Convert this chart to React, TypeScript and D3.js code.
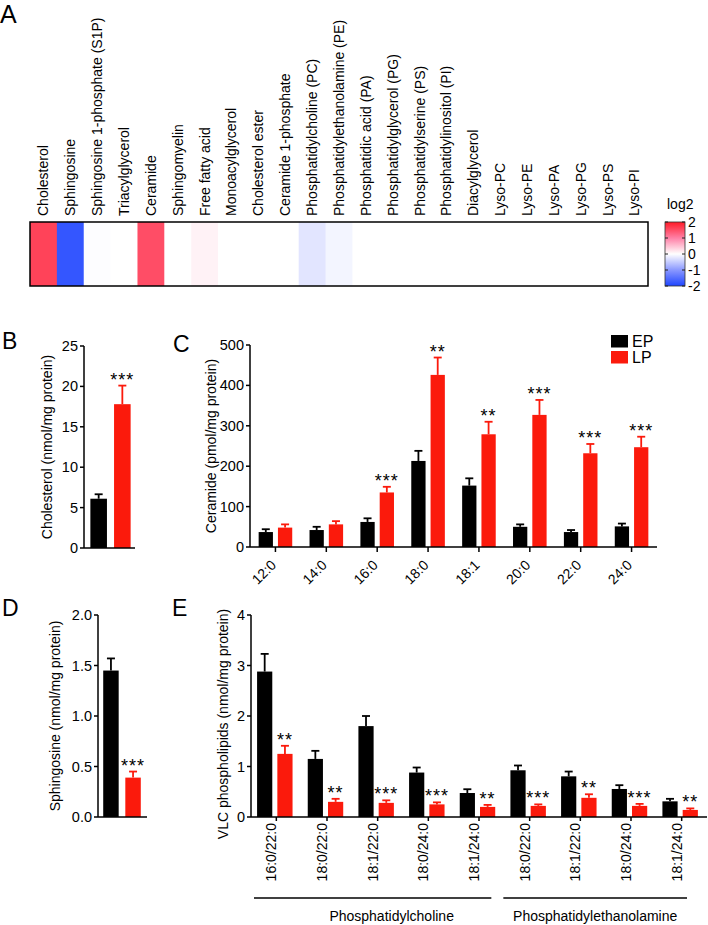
import React from "react";
import * as d3 from "d3";

// ---------- DATA ----------
const heatCategories = [
  "Cholesterol", "Sphingosine", "Sphingosine 1-phosphate (S1P)", "Triacylglycerol",
  "Ceramide", "Sphingomyelin", "Free fatty acid", "Monoacylglycerol", "Cholesterol ester",
  "Ceramide 1-phosphate", "Phosphatidylcholine (PC)", "Phosphatidylethanolamine (PE)",
  "Phosphatidic acid (PA)", "Phosphatidylglycerol (PG)", "Phosphatidylserine (PS)",
  "Phosphatidylinositol (PI)", "Diacylglycerol", "Lyso-PC", "Lyso-PE", "Lyso-PA",
  "Lyso-PG", "Lyso-PS", "Lyso-PI",
];
const heatValues = [1.6, -1.8, -0.02, 0, 1.5, 0, 0.1, 0, 0, 0, -0.25, -0.1, 0, 0, 0, 0, 0, 0, 0, 0, 0, 0, 0];
const colorTicks = [2, 1, 0, -1, -2];

const seriesNames = ["EP", "LP"];

const cholMean = [6.1, 17.8];
const cholErr = [0.55, 2.3];
const cholSig = ["", "***"];
const cholTicks = [0, 5, 10, 15, 20, 25];

const ceramideCats = ["12:0", "14:0", "16:0", "18:0", "18:1", "20:0", "22:0", "24:0"];
const ceramideEP = [37, 42, 62, 213, 152, 50, 37, 51];
const ceramideEPErr = [7, 8, 9, 25, 18, 6, 5, 7];
const ceramideLP = [48, 56, 135, 426, 279, 327, 232, 247];
const ceramideLPErr = [8, 8, 14, 43, 31, 37, 23, 26];
const ceramideSig = ["", "", "***", "**", "**", "***", "***", "***"];
const ceramideTicks = [0, 100, 200, 300, 400, 500];

const sphMean = [1.45, 0.39];
const sphErr = [0.12, 0.06];
const sphSig = ["", "***"];
const sphTicks = [0, 0.5, 1.0, 1.5, 2.0];

const vlcCats = ["16:0/22:0", "18:0/22:0", "18:1/22:0", "18:0/24:0", "18:1/24:0", "18:0/22:0", "18:1/22:0", "18:0/24:0", "18:1/24:0"];
const vlcEP = [2.88, 1.15, 1.80, 0.88, 0.475, 0.925, 0.805, 0.555, 0.31];
const vlcEPErr = [0.35, 0.16, 0.2, 0.1, 0.075, 0.095, 0.095, 0.075, 0.05];
const vlcLP = [1.25, 0.30, 0.28, 0.25, 0.20, 0.22, 0.38, 0.22, 0.14];
const vlcLPErr = [0.16, 0.06, 0.05, 0.04, 0.04, 0.03, 0.07, 0.04, 0.03];
const vlcSig = ["**", "**", "***", "***", "**", "***", "**", "***", "**"];
const vlcTicks = [0, 1, 2, 3, 4];
const vlcClasses = ["Phosphatidylcholine", "Phosphatidylethanolamine"];
const vlcClassCounts = [5, 4];

// ---------- STYLE ----------
const FONT = "'Liberation Sans', Arial, Helvetica, sans-serif";
const BLACK = "#000000";
const RED = "#fb1a0c";
const seriesColors = [BLACK, RED];
const AXW = 1.5;

const heatColor = d3
  .scaleLinear<string>()
  .domain([-2, -1, 0, 1, 2])
  .range(["#1f45ff", "#8a98ff", "#ffffff", "#ff80a6", "#ff1a26"])
  .clamp(true);

function YAxis({ scale, x, ticks, fmt }: any) {
  const [d0, d1] = scale.domain();
  return (
    <g>
      <line x1={x} x2={x} y1={scale(d1)} y2={scale(d0)} stroke={BLACK} strokeWidth={AXW} />
      {ticks.map((t: number) => (
        <g key={t}>
          <line x1={x - 4} x2={x} y1={scale(t)} y2={scale(t)} stroke={BLACK} strokeWidth={AXW} />
          <text x={x - 6} y={scale(t)} dy="0.35em" textAnchor="end" fontSize={14.5} fontFamily={FONT}>
            {fmt ? fmt(t) : t}
          </text>
        </g>
      ))}
    </g>
  );
}

function ErrBar({ cx, y0, y1, color }: any) {
  return (
    <g>
      <line x1={cx} x2={cx} y1={y0} y2={y1} stroke={color} strokeWidth={1.8} />
      <line x1={cx - 4} x2={cx + 4} y1={y1} y2={y1} stroke={color} strokeWidth={1.8} />
    </g>
  );
}

function Stars({ cx, y, s }: any) {
  if (!s) return null;
  return (
    <text x={cx} y={y} textAnchor="middle" fontSize={18} letterSpacing={1} fontFamily={FONT}>
      {s}
    </text>
  );
}

function SinglePanel({ axisX, xEnd, yTop, yBot, barRange, means, errs, sigs, ticks, fmt, title, titleX }: any) {
  const y = d3.scaleLinear().domain([0, ticks[ticks.length - 1]]).range([yBot, yTop]);
  const x = d3.scaleBand().domain(seriesNames).range(barRange).paddingInner(0.3).paddingOuter(0.1);
  return (
    <g>
      {seriesNames.map((s, i) => {
        const bx = x(s)!;
        const cx = bx + x.bandwidth() / 2;
        const top = y(means[i] + errs[i]);
        return (
          <g key={s}>
            <ErrBar cx={cx} y0={y(means[i])} y1={top} color={seriesColors[i]} />
            <rect x={bx} width={x.bandwidth()} y={y(means[i])} height={y(0) - y(means[i])} fill={seriesColors[i]} />
            <Stars cx={cx} y={top} s={sigs[i]} />
          </g>
        );
      })}
      <line x1={axisX} x2={xEnd} y1={yBot} y2={yBot} stroke={BLACK} strokeWidth={AXW} />
      <YAxis scale={y} x={axisX} ticks={ticks} fmt={fmt} />
      <text
        transform={`translate(${titleX},${(yTop + yBot) / 2}) rotate(-90)`}
        textAnchor="middle"
        fontSize={14}
        fontFamily={FONT}
      >
        {title}
      </text>
    </g>
  );
}

export default function App() {
  // ----- Panel A heatmap -----
  const hx = d3.scaleBand().domain(heatCategories).range([30, 648]);
  const hy0 = 222, hy1 = 286;
  const cbY = d3.scaleLinear().domain([-2, 2]).range([hy1, hy0]);
  const cbX0 = 665, cbX1 = 685;
  const gradStops = d3.range(0, 1.0001, 0.05);

  // ----- Panel C -----
  const cY = d3.scaleLinear().domain([0, 500]).range([547, 345]);
  const cX = d3.scaleBand().domain(ceramideCats).range([250, 657]);
  const cIn = d3.scaleBand().domain(seriesNames)
    .range([cX.bandwidth() * 0.17, cX.bandwidth() * 0.83]).paddingInner(0.26);
  const cSeries = [[ceramideEP, ceramideEPErr], [ceramideLP, ceramideLPErr]];

  // ----- Panel E -----
  const eY = d3.scaleLinear().domain([0, 4]).range([817, 615]);
  const eX = d3.scaleBand<number>().domain(d3.range(vlcCats.length)).range([251, 707]);
  const eIn = d3.scaleBand().domain(seriesNames)
    .range([eX.bandwidth() * 0.12, eX.bandwidth() * 0.82]).paddingInner(0.25);
  const eSeries = [[vlcEP, vlcEPErr], [vlcLP, vlcLPErr]];
  const classStarts = vlcClassCounts.map((_, i) => d3.sum(vlcClassCounts.slice(0, i)));
  const bracketPad = [[3, 13], [-1, 20]];
  const labelShift = [19, 0];

  return (
    <svg
      width={708}
      height={925}
      style={{ position: "fixed", left: 0, top: 0, background: "#fff" }}
      fontFamily={FONT}
    >
      <rect x={0} y={0} width={708} height={925} fill="#fff" />

      {/* Panel letters */}
      <text x={0} y={23} fontSize={25} fontFamily={FONT}>A</text>
      <text x={2} y={349} fontSize={23} fontFamily={FONT}>B</text>
      <text x={173} y={352} fontSize={23} fontFamily={FONT}>C</text>
      <text x={2} y={616} fontSize={23} fontFamily={FONT}>D</text>
      <text x={172} y={616} fontSize={23} fontFamily={FONT}>E</text>

      {/* ===== A: heatmap ===== */}
      {heatCategories.map((c, i) => (
        <rect key={c} x={hx(c)!} y={hy0} width={hx.bandwidth() + 0.5} height={hy1 - hy0} fill={heatColor(heatValues[i])} />
      ))}
      <rect x={30} y={hy0} width={618} height={hy1 - hy0} fill="none" stroke={BLACK} strokeWidth={1.5} />
      {heatCategories.map((c) => (
        <text
          key={c}
          transform={`translate(${hx(c)! + hx.bandwidth() / 2},216) rotate(-90)`}
          dy="0.35em"
          fontSize={14}
          fontFamily={FONT}
        >
          {c}
        </text>
      ))}
      <defs>
        <linearGradient id="cbgrad" x1="0" y1="1" x2="0" y2="0">
          {gradStops.map((t) => (
            <stop key={t} offset={t} stopColor={heatColor(-2 + 4 * t)} />
          ))}
        </linearGradient>
      </defs>
      <rect x={cbX0} y={hy0} width={cbX1 - cbX0} height={hy1 - hy0} fill="url(#cbgrad)" stroke="#333" strokeWidth={0.8} />
      {colorTicks.map((t) => (
        <g key={t}>
          <line x1={cbX0} x2={cbX0 + 3} y1={cbY(t)} y2={cbY(t)} stroke="#222" strokeWidth={1} />
          <line x1={cbX1 - 3} x2={cbX1} y1={cbY(t)} y2={cbY(t)} stroke="#222" strokeWidth={1} />
          <text x={688} y={cbY(t)} dy="0.35em" fontSize={14} fontFamily={FONT}>{t}</text>
        </g>
      ))}
      <text x={667} y={209} fontSize={14} fontFamily={FONT}>log2</text>

      {/* ===== B ===== */}
      <SinglePanel
        axisX={84} xEnd={135} yTop={346} yBot={548} barRange={[88, 133]}
        means={cholMean} errs={cholErr} sigs={cholSig} ticks={cholTicks}
        title="Cholesterol (nmol/mg protein)" titleX={52}
      />

      {/* ===== C ===== */}
      {ceramideCats.map((c, gi) => (
        <g key={c}>
          {seriesNames.map((s, si) => {
            const v = cSeries[si][0][gi];
            const e = cSeries[si][1][gi];
            const bx = cX(c)! + cIn(s)!;
            const cx = bx + cIn.bandwidth() / 2;
            return (
              <g key={s}>
                <ErrBar cx={cx} y0={cY(v)} y1={cY(v + e)} color={seriesColors[si]} />
                <rect x={bx} width={cIn.bandwidth()} y={cY(v)} height={cY(0) - cY(v)} fill={seriesColors[si]} />
                {si === 1 && <Stars cx={cx} y={cY(v + e)} s={ceramideSig[gi]} />}
              </g>
            );
          })}
          <line x1={cX(c)! + cX.bandwidth() / 2} x2={cX(c)! + cX.bandwidth() / 2} y1={547} y2={552} stroke={BLACK} strokeWidth={AXW} />
          <text
            transform={`translate(${cX(c)! + cX.bandwidth() / 2 + 1.5},566) rotate(-45)`}
            textAnchor="end"
            fontSize={14}
            fontFamily={FONT}
          >
            {c}
          </text>
        </g>
      ))}
      <line x1={250} x2={657} y1={547} y2={547} stroke={BLACK} strokeWidth={AXW} />
      <YAxis scale={cY} x={250} ticks={ceramideTicks} />
      <text transform={`translate(216,446) rotate(-90)`} textAnchor="middle" fontSize={14} fontFamily={FONT}>
        Ceramide (pmol/mg protein)
      </text>
      {seriesNames.map((s, i) => (
        <g key={s}>
          <rect x={611} y={335 + i * 16} width={17} height={12.5} fill={seriesColors[i]} />
          <text x={632} y={347 + i * 16} fontSize={16} fontFamily={FONT}>{s}</text>
        </g>
      ))}

      {/* ===== D ===== */}
      <SinglePanel
        axisX={98} xEnd={147} yTop={615} yBot={817} barRange={[101, 143]}
        means={sphMean} errs={sphErr} sigs={sphSig} ticks={sphTicks}
        fmt={(t: number) => d3.format(".1f")(t)}
        title="Sphingosine (nmol/mg protein)" titleX={60}
      />

      {/* ===== E ===== */}
      {vlcCats.map((c, gi) => {
        const tx = eX(gi)! + eX.bandwidth() / 2;
        return (
          <g key={gi}>
            {seriesNames.map((s, si) => {
              const v = eSeries[si][0][gi];
              const e = eSeries[si][1][gi];
              const bx = eX(gi)! + eIn(s)!;
              const cx = bx + eIn.bandwidth() / 2;
              return (
                <g key={s}>
                  <ErrBar cx={cx} y0={eY(v)} y1={eY(v + e)} color={seriesColors[si]} />
                  <rect x={bx} width={eIn.bandwidth()} y={eY(v)} height={eY(0) - eY(v)} fill={seriesColors[si]} />
                  {si === 1 && <Stars cx={cx} y={eY(v + e)} s={vlcSig[gi]} />}
                </g>
              );
            })}
            <line x1={tx} x2={tx} y1={817} y2={821} stroke={BLACK} strokeWidth={AXW} />
            <text transform={`translate(${tx},823) rotate(-90)`} textAnchor="end" fontSize={14} fontFamily={FONT}>
              {c}
            </text>
          </g>
        );
      })}
      <line x1={251} x2={707} y1={817} y2={817} stroke={BLACK} strokeWidth={AXW} />
      <YAxis scale={eY} x={251} ticks={vlcTicks} />
      <text transform={`translate(228,724) rotate(-90)`} textAnchor="middle" fontSize={14} fontFamily={FONT}>
        VLC phospholipids (nmol/mg protein)
      </text>
      {vlcClasses.map((cl, k) => {
        const first = classStarts[k];
        const last = first + vlcClassCounts[k] - 1;
        const x1 = eX(first)! + bracketPad[k][0];
        const x2 = eX(last)! + eX.bandwidth() - bracketPad[k][1];
        return (
          <g key={cl}>
            <line x1={x1} x2={x2} y1={898} y2={898} stroke={BLACK} strokeWidth={1.5} />
            <text x={(x1 + x2) / 2 + labelShift[k]} y={921} textAnchor="middle" fontSize={14} fontFamily={FONT}>
              {cl}
            </text>
          </g>
        );
      })}
    </svg>
  );
}
